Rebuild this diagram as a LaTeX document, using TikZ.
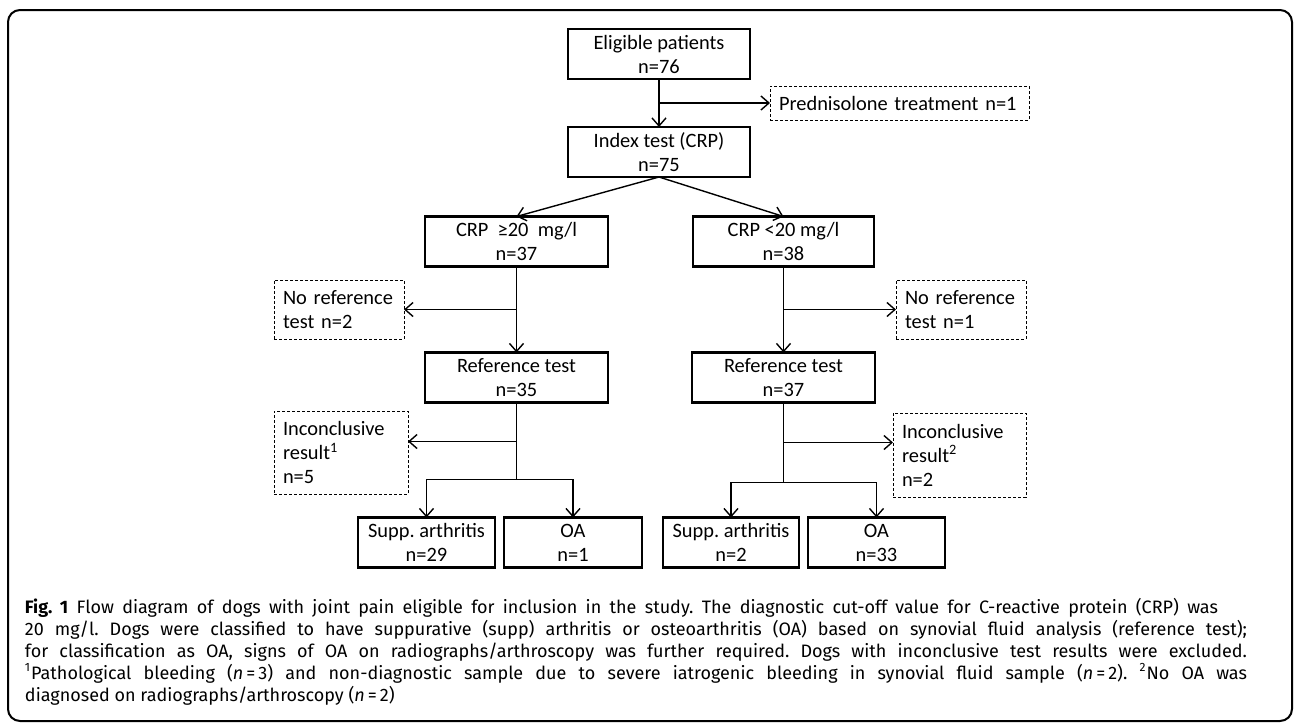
\documentclass[tikz,border=0pt]{standalone}
\usepackage{fontspec}
\setmainfont{Carlito}
\newfontfamily\capfont{Fira Sans}
\usepackage{tikz}
\usetikzlibrary{positioning, arrows.meta}
\frenchspacing

\begin{document}
\begin{tikzpicture}[
    x=0.5pt, y=-0.5pt,
    every node/.style={outer sep=0pt, inner sep=0pt, align=center},
    box/.style={draw, line width=1.1pt, minimum height=25pt, font=\fontsize{10.2pt}{12pt}\selectfont},
    side/.style={draw, line width=0.5pt, dash pattern=on 1.5pt off 1pt, inner xsep=4.5pt, align=left, font=\fontsize{10.2pt}{12pt}\selectfont},
    arrow/.style={-{Straight Barb[length=4pt,width=7pt]}, line width=0.7pt},
    capline/.style={anchor=base west, font=\capfont\frenchspacing\fontsize{9pt}{11pt}\selectfont}
]
\useasboundingbox (0,0) rectangle (1296,724);
\draw[line width=1pt, rounded corners=6pt] (8,10) rectangle (1292,721);

\node[box, minimum width=91pt] (elig) at (659,54) {Eligible patients\\n=76};
\node[box, minimum width=91pt, below=24pt of elig] (index) {Index test (CRP)\\n=75};
\node[side, text width=120.5pt, minimum height=17pt] (pred) at (899.5,103) {Prednisolone treatment n=1};

\node[box, minimum width=91.5pt] (crpH) at (516.5,241.5) {CRP~ ≥20~ mg/l\\n=37};
\node[box, minimum width=90.5pt] (crpL) at (783.5,241.5) {CRP <20 mg/l\\n=38};
\node[side, text width=56pt, minimum height=29.5pt] (norefL) at (339,309.5) {No reference\\test n=2};
\node[side, text width=56pt, minimum height=29.5pt] (norefR) at (961,309.5) {No reference\\test n=1};
\node[box, minimum width=91.5pt, below=43pt of crpH] (refL) {Reference test\\n=35};
\node[box, minimum width=91.5pt, below=43pt of crpL] (refR) {Reference test\\n=37};
\node[side, text width=58pt, minimum height=41.5pt] (incL) at (341,452.5) {Inconclusive\\result\textsuperscript{1}\\n=5};
\node[side, text width=57.5pt, minimum height=42pt] (incR) at (959.5,455) {Inconclusive\\result\textsuperscript{2}\\n=2};
\node[box, minimum width=68.5pt] (suppL) at (426.5,542.5) {Supp. arthritis\\n=29};
\node[box, minimum width=69pt, right=4.5pt of suppL] (oaL) {OA\\n=1};
\node[box, minimum width=68pt] (suppR) at (731,542.5) {Supp. arthritis\\n=2};
\node[box, minimum width=68.5pt, right=4.5pt of suppR] (oaR) {OA\\n=33};

\draw[arrow] (elig) -- (index);
\draw[arrow] (elig.south |- pred.west) -- (pred.west);
\draw[arrow] (index.south) -- (crpH.north);
\draw[arrow] (index.south) -- (crpL.north);
\draw[arrow] (crpH) -- (refL);
\draw[arrow] (crpL) -- (refR);
\draw[arrow] (crpH.south |- norefL.east) -- (norefL.east);
\draw[arrow] (crpL.south |- norefR.west) -- (norefR.west);

% split below the reference tests
\coordinate[below=19.5pt of refL.south] (sideL);
\coordinate[below=38.5pt of refL.south] (splitL);
\coordinate[below=20pt of refR.south] (sideR);
\coordinate[below=40pt of refR.south] (splitR);
\draw[line width=0.7pt] (refL.south) -- (splitL);
\draw[line width=0.7pt] (refR.south) -- (splitR);
\draw[arrow] (sideL) -- (sideL -| incL.east);
\draw[arrow] (sideR) -- (sideR -| incR.west);
\draw[arrow] (splitL) -| (suppL.north);
\draw[arrow] (splitL) -| (oaL.north);
\draw[arrow] (splitR) -| (suppR.north);
\draw[arrow] (splitR) -| (oaR.north);

% caption, one node per line
\node[capline] (cap1) at (25,613) {\hbox to 596.5pt{\textbf{Fig.~1} Flow diagram of dogs with joint pain eligible for inclusion in the study. The diagnostic cut-off value for C-reactive protein (CRP) was}};
\node[capline] (cap2) at (25,635) {\hbox to 611pt{20 mg/l. Dogs were classified to have suppurative (supp) arthritis or osteoarthritis (OA) based on synovial fluid analysis (reference test);}};
\node[capline] (cap3) at (25,657) {\hbox to 611pt{for classification as OA, signs of OA on radiographs/arthroscopy was further required. Dogs with inconclusive test results were excluded.}};
\node[capline] (cap4) at (25,679) {\hbox to 611pt{\textsuperscript{1}Pathological bleeding (\textit{n}\,=\,3) and non-diagnostic sample due to severe iatrogenic bleeding in synovial fluid sample (\textit{n}\,=\,2). \textsuperscript{2}No OA was}};
\node[capline] (cap5) at (25,701) {diagnosed on radiographs/arthroscopy (\textit{n}\,=\,2)};
\end{tikzpicture}
\end{document}
